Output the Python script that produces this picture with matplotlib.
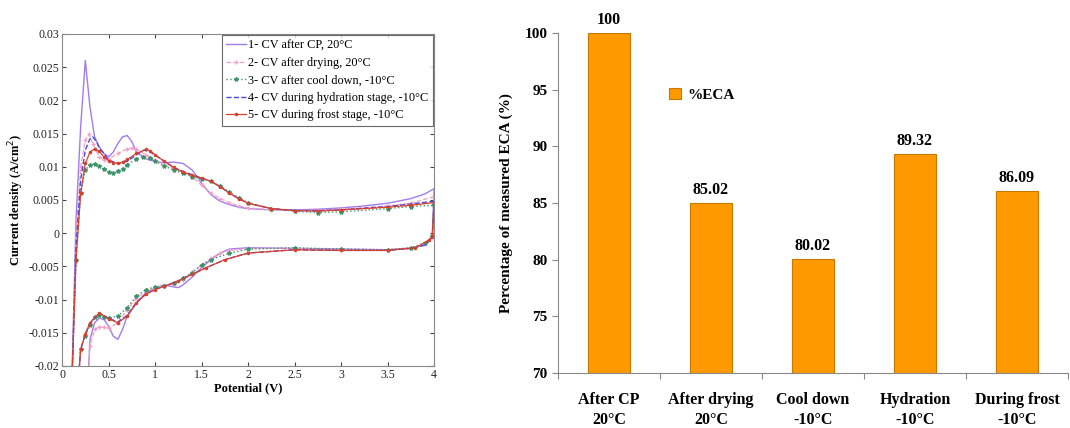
import matplotlib
matplotlib.use("Agg")
import matplotlib.pyplot as plt

plt.rcParams['font.family'] = ['Liberation Serif', 'DejaVu Serif']

# ---- CV curves (potential V, current density A/cm2), forward and reverse scans ----
v1_fwd = [0.10, 0.15, 0.20, 0.25, 0.30, 0.35, 0.40, 0.45, 0.50, 0.55, 0.60, 0.65, 0.70, 0.75, 0.80, 0.90,
          1.00, 1.10, 1.20, 1.30, 1.40, 1.50, 1.60, 1.70, 1.80, 1.90, 2.00, 2.25, 2.50, 2.75, 3.00, 3.25,
          3.50, 3.75, 3.90, 4.00]
i1_fwd = [-0.025, 0.002, 0.016, 0.026, 0.019, 0.0145, 0.013, 0.012, 0.0115, 0.0122, 0.0135, 0.0145, 0.0147,
          0.0138, 0.0122, 0.0112, 0.0108, 0.0106, 0.0107, 0.0105, 0.0095, 0.0075, 0.0058, 0.0048, 0.0043,
          0.0039, 0.0037, 0.0035, 0.0035, 0.0036, 0.0038, 0.0041, 0.0045, 0.0052, 0.0059, 0.0067]
v1_rev = [4.00, 3.98, 3.90, 3.75, 3.50, 3.00, 2.50, 2.00, 1.80, 1.70, 1.60, 1.50, 1.40, 1.30, 1.25, 1.20,
          1.10, 1.00, 0.90, 0.80, 0.70, 0.65, 0.60, 0.55, 0.50, 0.45, 0.40, 0.35, 0.30, 0.27]
i1_rev = [0.0067, -0.0005, -0.0018, -0.0023, -0.0025, -0.0024, -0.0023, -0.0022, -0.0024, -0.003, -0.004,
          -0.0052, -0.0066, -0.0078, -0.0082, -0.0081, -0.0078, -0.0082, -0.009, -0.0105, -0.0125, -0.0145,
          -0.016, -0.0155, -0.014, -0.013, -0.0128, -0.0135, -0.016, -0.025]

v2_fwd = [0.10, 0.15, 0.20, 0.25, 0.29, 0.33, 0.40, 0.45, 0.50, 0.60, 0.70, 0.75, 0.80, 0.90, 1.00, 1.10,
          1.20, 1.30, 1.40, 1.50, 1.60, 1.70, 1.80, 1.90, 2.00, 2.25, 2.50, 2.75, 3.00, 3.50, 3.75, 4.00]
i2_fwd = [-0.025, 0.000, 0.010, 0.0140, 0.0149, 0.0135, 0.0115, 0.011, 0.0112, 0.012, 0.0127, 0.0128,
          0.0126, 0.0118, 0.011, 0.0103, 0.0097, 0.0092, 0.0085, 0.0072, 0.0060, 0.0052, 0.0046, 0.0041,
          0.0038, 0.0035, 0.0034, 0.0035, 0.0036, 0.0041, 0.0045, 0.0055]
v2_rev = [4.00, 3.98, 3.90, 3.75, 3.50, 3.00, 2.50, 2.00, 1.80, 1.70, 1.60, 1.50, 1.40, 1.30, 1.20, 1.10,
          1.00, 0.90, 0.80, 0.70, 0.60, 0.50, 0.45, 0.40, 0.35, 0.30, 0.27]
i2_rev = [0.0055, -0.0008, -0.0017, -0.0022, -0.0025, -0.0025, -0.0023, -0.0023, -0.0026, -0.003, -0.0038,
          -0.0048, -0.0058, -0.007, -0.0077, -0.0079, -0.0082, -0.0088, -0.0098, -0.0115, -0.0135, -0.0143,
          -0.0142, -0.0141, -0.0145, -0.017, -0.025]

v3_fwd = [0.10, 0.15, 0.20, 0.25, 0.30, 0.35, 0.40, 0.45, 0.50, 0.55, 0.60, 0.65, 0.70, 0.80, 0.87, 0.95,
          1.00, 1.10, 1.20, 1.30, 1.40, 1.50, 1.60, 1.70, 1.80, 1.90, 2.00, 2.25, 2.50, 2.75, 3.00, 3.50,
          3.75, 4.00]
i3_fwd = [-0.025, -0.004, 0.006, 0.0095, 0.0103, 0.0104, 0.0101, 0.0096, 0.0092, 0.0091, 0.0093, 0.0097,
          0.0103, 0.0112, 0.0115, 0.0113, 0.0108, 0.0101, 0.0095, 0.009, 0.0085, 0.0082, 0.0078, 0.0071,
          0.0062, 0.0053, 0.0046, 0.0037, 0.0033, 0.0031, 0.0032, 0.0037, 0.0040, 0.0042]
v3_rev = [4.00, 3.98, 3.90, 3.75, 3.50, 3.00, 2.50, 2.00, 1.80, 1.60, 1.50, 1.40, 1.30, 1.20, 1.10, 1.00,
          0.90, 0.80, 0.70, 0.60, 0.50, 0.45, 0.40, 0.35, 0.30, 0.25, 0.20, 0.16]
i3_rev = [0.0042, -0.0005, -0.0015, -0.0022, -0.0025, -0.0024, -0.0022, -0.0024, -0.003, -0.004, -0.0048,
          -0.006, -0.0068, -0.0075, -0.008, -0.0081, -0.0085, -0.0095, -0.0112, -0.0125, -0.0128, -0.0127,
          -0.0124, -0.0127, -0.0138, -0.0155, -0.0175, -0.025]

v4_fwd = [0.10, 0.15, 0.20, 0.25, 0.30, 0.33, 0.37, 0.40, 0.45, 0.50, 0.60, 0.70, 0.80, 0.88, 0.95, 1.05,
          1.20, 1.30, 1.40, 1.50, 1.60, 1.70, 1.80, 1.90, 2.00, 2.25, 2.50, 2.75, 3.00, 3.50, 3.75, 4.00]
i4_fwd = [-0.025, -0.002, 0.008, 0.0125, 0.0142, 0.0145, 0.0138, 0.0128, 0.012, 0.011, 0.0105, 0.0108,
          0.0118, 0.0125, 0.0122, 0.0113, 0.0099, 0.0093, 0.0088, 0.0083, 0.0078, 0.007, 0.006, 0.0052,
          0.0045, 0.0037, 0.0034, 0.0034, 0.0035, 0.0040, 0.0044, 0.0048]
v4_rev = [4.00, 3.98, 3.90, 3.75, 3.50, 3.00, 2.50, 2.00, 1.75, 1.55, 1.40, 1.25, 1.10, 1.00, 0.90, 0.80,
          0.70, 0.60, 0.50, 0.40, 0.30, 0.25, 0.20, 0.16]
i4_rev = [0.0048, -0.0008, -0.0018, -0.0023, -0.0026, -0.0026, -0.0025, -0.003, -0.004, -0.0052, -0.0062,
          -0.0072, -0.008, -0.0085, -0.0092, -0.0104, -0.0124, -0.0134, -0.0128, -0.0121, -0.0135, -0.0152,
          -0.0175, -0.025]

v5_fwd = [0.10, 0.15, 0.20, 0.25, 0.30, 0.35, 0.40, 0.45, 0.50, 0.55, 0.60, 0.65, 0.70, 0.80, 0.90, 0.95,
          1.00, 1.10, 1.20, 1.30, 1.40, 1.50, 1.60, 1.70, 1.80, 1.90, 2.00, 2.25, 2.50, 2.75, 3.00, 3.50,
          3.75, 4.00]
i5_fwd = [-0.025, -0.004, 0.006, 0.0105, 0.0122, 0.0127, 0.0123, 0.0115, 0.0109, 0.0106, 0.0105, 0.0107,
          0.0111, 0.012, 0.0126, 0.0124, 0.0118, 0.0108, 0.0099, 0.0092, 0.0087, 0.0083, 0.0078, 0.007,
          0.006, 0.0052, 0.0045, 0.0037, 0.0034, 0.0033, 0.0035, 0.0039, 0.0042, 0.0046]
v5_rev = [4.00, 3.98, 3.95, 3.80, 3.50, 3.00, 2.50, 2.00, 1.75, 1.55, 1.40, 1.25, 1.10, 1.00, 0.90, 0.80,
          0.70, 0.60, 0.50, 0.40, 0.30, 0.25, 0.20, 0.16]
i5_rev = [0.0046, -0.0005, -0.001, -0.0022, -0.0026, -0.0026, -0.0025, -0.003, -0.004, -0.0052, -0.0062,
          -0.0072, -0.008, -0.0085, -0.0092, -0.0105, -0.0125, -0.0135, -0.0129, -0.012, -0.0135, -0.0152,
          -0.0175, -0.025]

cv_labels = ['1- CV after CP, 20°C', '2- CV after drying, 20°C', '3- CV after cool down, -10°C',
             '4- CV during hydration stage, -10°C', '5- CV during frost stage, -10°C']

# ---- ECA bar chart ----
eca_cats = ['After CP\n20°C', 'After drying\n20°C', 'Cool down\n-10°C', 'Hydration\n-10°C', 'During frost\n-10°C']
eca_vals = [100, 85.02, 80.02, 89.32, 86.09]
eca_text = ['100', '85.02', '80.02', '89.32', '86.09']

fig = plt.figure(figsize=(10.7, 4.28), dpi=100)

# left panel
ax = fig.add_axes([0.058, 0.145, 0.3477, 0.7757])
styles = [
    dict(color='#a07cf0', ls='-', lw=1.0, marker=None),
    dict(color='#f2a0c4', ls='--', lw=0.9, marker='+', ms=3.5),
    dict(color='#3c9468', ls=':', lw=1.0, marker='*', ms=3),
    dict(color='#4a4ad8', ls='--', lw=1.0, marker=None),
    dict(color='#d8402c', ls='-', lw=0.9, marker='.', ms=3),
]
curves = [(v1_fwd, i1_fwd, v1_rev, i1_rev), (v2_fwd, i2_fwd, v2_rev, i2_rev),
          (v3_fwd, i3_fwd, v3_rev, i3_rev), (v4_fwd, i4_fwd, v4_rev, i4_rev),
          (v5_fwd, i5_fwd, v5_rev, i5_rev)]
for (vf, jf, vr, jr), st, lab in zip(curves, styles, cv_labels):
    ax.plot(vf + vr, jf + jr, label=lab, **st)

ax.set_xlim(0, 4)
ax.set_ylim(-0.02, 0.03)
ax.set_xticks([0, 0.5, 1, 1.5, 2, 2.5, 3, 3.5, 4])
ax.set_xticklabels(['0', '0.5', '1', '1.5', '2', '2.5', '3', '3.5', '4'])
ax.set_yticks([-0.02, -0.015, -0.01, -0.005, 0, 0.005, 0.01, 0.015, 0.02, 0.025, 0.03])
ax.set_yticklabels(['-0.02', '-0.015', '-0.01', '-0.005', '0', '0.005', '0.01', '0.015', '0.02', '0.025', '0.03'])
ax.tick_params(direction='in', top=True, right=True, length=3, labelsize=8.5, colors='#444444',
               labelcolor='#222222', pad=2)
for s in ax.spines.values():
    s.set_color('#888888')
ax.set_xlabel('Potential (V)', fontsize=9, fontweight='bold', labelpad=1)
ax.set_ylabel('Current density (A/cm$^2$)', fontsize=9, fontweight='bold', labelpad=2)
leg = ax.legend(loc='upper right', fontsize=8.8, frameon=True, fancybox=False, borderpad=0.35,
                labelspacing=0.45, handlelength=1.6, handletextpad=0.2, borderaxespad=0.1)
leg.get_frame().set_edgecolor('#444444')
leg.get_frame().set_linewidth(0.8)

# right panel
bx = fig.add_axes([0.5215, 0.1285, 0.4766, 0.7944])
xs = list(range(len(eca_vals)))
bars = bx.bar(xs, eca_vals, width=0.41, color='#ff9900', edgecolor='#c87800', linewidth=0.8, label='%ECA')
for x, v, t in zip(xs, eca_vals, eca_text):
    bx.text(x, v + 0.45, t, ha='center', va='bottom', fontsize=11.5, fontweight='bold', clip_on=False)
bx.set_xlim(-0.5, 4.5)
bx.set_ylim(70, 100)
bx.set_yticks([70, 75, 80, 85, 90, 95, 100])
bx.set_xticks([-0.5, 0.5, 1.5, 2.5, 3.5, 4.5])
bx.set_xticklabels([])
bx.set_xticks(xs, minor=True)
bx.set_xticklabels(eca_cats, minor=True, fontsize=11.5, fontweight='bold', linespacing=1.3)
bx.tick_params(axis='x', which='minor', length=0, pad=14)
bx.tick_params(axis='x', which='major', direction='out', length=4, color='#888888')
bx.tick_params(axis='y', direction='out', length=4, color='#888888', labelsize=11)
for lab in bx.get_yticklabels():
    lab.set_fontweight('bold')
bx.spines['top'].set_visible(False)
bx.spines['right'].set_visible(False)
bx.spines['left'].set_color('#888888')
bx.spines['bottom'].set_color('#888888')
bx.set_ylabel('Percentage of measured ECA (%)', fontsize=11, fontweight='bold', labelpad=8)
bl = bx.legend(loc='upper left', bbox_to_anchor=(0.19, 0.88), frameon=False,
               handlelength=0.8, handleheight=0.8, handletextpad=0.4, prop={'weight': 'bold', 'size': 11})

fig.savefig('out.png', dpi=100)
